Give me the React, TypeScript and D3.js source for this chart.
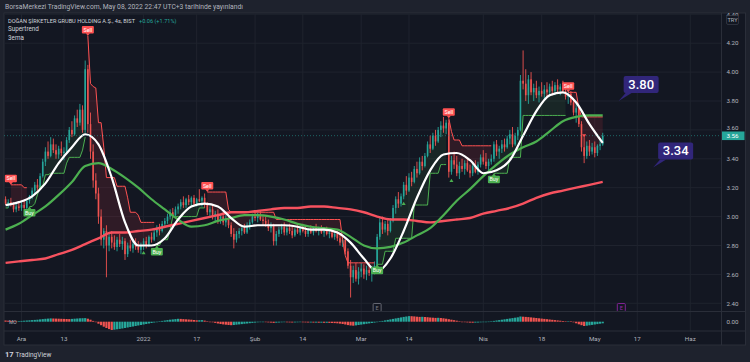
import * as d3 from "d3";

type Candle = [number, number, number, number]; // open, high, low, close

// 4h BIST bars, grouped by month
const nov21: Candle[] = [
  [3.12, 3.14, 3.08, 3.09], [3.09, 3.12, 3.06, 3.1], [3.1, 3.13, 3.07, 3.08], [3.08, 3.1, 3.03, 3.05],
  [3.05, 3.09, 3.03, 3.07], [3.07, 3.1, 3.04, 3.06],
];
const dec21: Candle[] = [
  [3.06, 3.1, 3.04, 3.08], [3.08, 3.11, 3.05, 3.06], [3.06, 3.12, 3.05, 3.11], [3.11, 3.15, 3.09, 3.14],
  [3.14, 3.2, 3.12, 3.18], [3.18, 3.24, 3.16, 3.22], [3.22, 3.26, 3.17, 3.2], [3.2, 3.3, 3.19, 3.28],
  [3.28, 3.4, 3.27, 3.38], [3.38, 3.48, 3.35, 3.45], [3.45, 3.52, 3.4, 3.42], [3.42, 3.55, 3.41, 3.5],
  [3.5, 3.54, 3.44, 3.46], [3.46, 3.5, 3.4, 3.43], [3.43, 3.49, 3.4, 3.47], [3.47, 3.52, 3.42, 3.44],
  [3.44, 3.48, 3.39, 3.45], [3.45, 3.55, 3.44, 3.53], [3.53, 3.62, 3.51, 3.6], [3.6, 3.66, 3.55, 3.57],
  [3.57, 3.7, 3.56, 3.68], [3.68, 3.74, 3.62, 3.65], [3.65, 3.78, 3.63, 3.74], [3.74, 3.77, 3.58, 3.6],
  [3.6, 4.08, 3.58, 4.02], [4.02, 4.05, 3.58, 3.64], [3.64, 3.72, 3.4, 3.45], [3.45, 3.5, 3.2, 3.25],
  [3.25, 3.3, 3.12, 3.16], [3.16, 3.2, 2.95, 3.0], [3.0, 3.05, 2.8, 2.84], [2.84, 2.92, 2.78, 2.9],
  [2.9, 2.94, 2.58, 2.8], [2.8, 2.88, 2.76, 2.86], [2.86, 2.9, 2.78, 2.82], [2.82, 2.87, 2.77, 2.79],
  [2.79, 2.86, 2.76, 2.84], [2.84, 2.88, 2.79, 2.81], [2.81, 2.86, 2.77, 2.83], [2.83, 2.85, 2.7, 2.74],
  [2.74, 2.82, 2.72, 2.8], [2.8, 2.84, 2.76, 2.78], [2.78, 2.83, 2.75, 2.81], [2.81, 2.85, 2.77, 2.79],
  [2.79, 2.83, 2.75, 2.77], [2.77, 2.82, 2.74, 2.8],
];
const jan22: Candle[] = [
  [2.8, 2.85, 2.77, 2.83], [2.83, 2.86, 2.78, 2.8], [2.8, 2.87, 2.79, 2.86], [2.86, 2.89, 2.82, 2.84],
  [2.84, 2.91, 2.83, 2.89], [2.89, 2.94, 2.86, 2.92], [2.92, 2.95, 2.87, 2.9], [2.9, 2.97, 2.89, 2.95],
  [2.95, 2.99, 2.92, 2.97], [2.97, 3.02, 2.95, 3.0], [3.0, 3.05, 2.98, 3.03], [3.03, 3.06, 2.99, 3.01],
  [3.01, 3.07, 3.0, 3.05], [3.05, 3.09, 3.02, 3.07], [3.07, 3.12, 3.05, 3.1], [3.1, 3.14, 3.06, 3.08],
  [3.08, 3.13, 3.06, 3.12], [3.12, 3.15, 3.08, 3.1], [3.1, 3.14, 3.07, 3.13], [3.13, 3.15, 3.08, 3.09],
  [3.09, 3.13, 3.07, 3.12], [3.12, 3.19, 3.1, 3.11], [3.11, 3.14, 3.07, 3.13], [3.13, 3.16, 3.06, 3.08],
  [3.08, 3.1, 3.01, 3.03], [3.03, 3.07, 3.0, 3.05], [3.05, 3.08, 2.98, 3.0], [3.0, 3.04, 2.96, 3.02],
  [3.02, 3.05, 2.95, 2.97], [2.97, 3.02, 2.95, 3.0], [3.0, 3.03, 2.94, 2.96], [2.96, 3.01, 2.93, 2.99],
  [2.99, 3.02, 2.92, 2.94], [2.94, 2.96, 2.86, 2.88], [2.88, 2.92, 2.78, 2.84], [2.84, 2.9, 2.82, 2.88],
  [2.88, 2.92, 2.85, 2.9], [2.9, 2.94, 2.87, 2.92], [2.92, 2.95, 2.88, 2.89], [2.89, 2.96, 2.88, 2.94],
  [2.94, 2.98, 2.91, 2.96], [2.96, 3.02, 2.95, 3.0],
];
const feb22: Candle[] = [
  [3.0, 3.04, 2.97, 2.99], [2.99, 3.03, 2.96, 3.01], [3.01, 3.04, 2.97, 2.98], [2.98, 3.01, 2.94, 2.97],
  [2.97, 3.0, 2.93, 2.95], [2.95, 2.98, 2.9, 2.92], [2.92, 2.96, 2.89, 2.94], [2.94, 2.95, 2.8, 2.83],
  [2.83, 2.9, 2.8, 2.88], [2.88, 2.93, 2.86, 2.91], [2.91, 2.95, 2.88, 2.93], [2.93, 2.96, 2.87, 2.89],
  [2.89, 2.94, 2.87, 2.92], [2.92, 2.95, 2.88, 2.9], [2.9, 2.93, 2.85, 2.87], [2.87, 2.92, 2.86, 2.91],
  [2.91, 2.94, 2.88, 2.89], [2.89, 2.93, 2.87, 2.92], [2.92, 2.95, 2.89, 2.9], [2.9, 2.94, 2.86, 2.88],
  [2.88, 2.92, 2.86, 2.91], [2.91, 2.94, 2.88, 2.89], [2.89, 2.93, 2.87, 2.92], [2.92, 2.95, 2.89, 2.9],
  [2.9, 2.93, 2.87, 2.91], [2.91, 2.94, 2.88, 2.89], [2.89, 2.92, 2.86, 2.9], [2.9, 2.93, 2.87, 2.88],
  [2.88, 2.92, 2.85, 2.89], [2.89, 2.91, 2.85, 2.86], [2.86, 2.9, 2.84, 2.88], [2.88, 2.9, 2.83, 2.85],
  [2.85, 2.88, 2.8, 2.82], [2.82, 2.86, 2.79, 2.84], [2.84, 2.85, 2.74, 2.76], [2.76, 2.78, 2.64, 2.66],
  [2.66, 2.7, 2.44, 2.58], [2.58, 2.66, 2.54, 2.63], [2.63, 2.68, 2.55, 2.57], [2.57, 2.65, 2.53, 2.62],
];
const mar22: Candle[] = [
  [2.62, 2.68, 2.58, 2.64], [2.64, 2.67, 2.57, 2.6], [2.6, 2.66, 2.56, 2.63], [2.63, 2.68, 2.59, 2.61],
  [2.61, 2.66, 2.55, 2.64], [2.64, 2.69, 2.6, 2.66], [2.66, 2.88, 2.66, 2.86], [2.86, 2.99, 2.84, 2.96],
  [2.96, 3.0, 2.88, 2.91], [2.91, 2.97, 2.89, 2.95], [2.95, 2.98, 2.87, 2.9], [2.9, 2.99, 2.89, 2.97],
  [2.97, 3.08, 2.96, 3.06], [3.06, 3.14, 3.02, 3.12], [3.12, 3.17, 3.06, 3.09], [3.09, 3.16, 3.07, 3.14],
  [3.14, 3.24, 3.12, 3.22], [3.22, 3.28, 3.15, 3.18], [3.18, 3.3, 3.17, 3.27], [3.27, 3.31, 3.21, 3.24],
  [3.24, 3.35, 3.23, 3.33], [3.33, 3.38, 3.27, 3.3], [3.3, 3.41, 3.29, 3.38], [3.38, 3.42, 3.32, 3.35],
  [3.35, 3.44, 3.34, 3.42], [3.42, 3.52, 3.41, 3.5], [3.5, 3.56, 3.44, 3.47], [3.47, 3.58, 3.46, 3.56],
  [3.56, 3.6, 3.49, 3.52], [3.52, 3.62, 3.51, 3.6], [3.6, 3.66, 3.55, 3.63], [3.63, 3.69, 3.58, 3.61],
  [3.61, 3.67, 3.57, 3.65], [3.65, 3.67, 3.27, 3.31], [3.31, 3.42, 3.29, 3.39], [3.39, 3.45, 3.33, 3.36],
  [3.36, 3.42, 3.28, 3.3], [3.3, 3.38, 3.26, 3.35], [3.35, 3.4, 3.31, 3.33], [3.33, 3.39, 3.29, 3.37],
  [3.37, 3.41, 3.31, 3.32], [3.32, 3.36, 3.27, 3.3], [3.3, 3.37, 3.28, 3.35], [3.35, 3.39, 3.3, 3.31],
  [3.31, 3.38, 3.29, 3.36], [3.36, 3.43, 3.34, 3.41],
];
const apr22: Candle[] = [
  [3.41, 3.46, 3.36, 3.38], [3.38, 3.44, 3.33, 3.35], [3.35, 3.4, 3.3, 3.38], [3.38, 3.43, 3.36, 3.4],
  [3.4, 3.52, 3.38, 3.5], [3.5, 3.53, 3.42, 3.45], [3.45, 3.49, 3.4, 3.47], [3.47, 3.53, 3.44, 3.5],
  [3.5, 3.54, 3.45, 3.48], [3.48, 3.56, 3.47, 3.54], [3.54, 3.6, 3.5, 3.57], [3.57, 3.62, 3.48, 3.5],
  [3.5, 3.58, 3.49, 3.56], [3.56, 3.62, 3.53, 3.6], [3.6, 3.98, 3.59, 3.94], [3.94, 4.15, 3.88, 3.92],
  [3.92, 4.02, 3.8, 3.84], [3.84, 3.98, 3.78, 3.95], [3.95, 4.0, 3.84, 3.86], [3.86, 3.92, 3.8, 3.89],
  [3.89, 3.94, 3.82, 3.84], [3.84, 3.9, 3.79, 3.87], [3.87, 3.93, 3.83, 3.85], [3.85, 3.91, 3.81, 3.88],
  [3.88, 3.93, 3.83, 3.86], [3.86, 3.92, 3.83, 3.9], [3.9, 3.94, 3.84, 3.87], [3.87, 3.93, 3.84, 3.91],
  [3.91, 3.95, 3.85, 3.88], [3.88, 3.92, 3.84, 3.9], [3.9, 3.94, 3.86, 3.87], [3.87, 3.91, 3.81, 3.83],
  [3.83, 3.88, 3.78, 3.85], [3.85, 3.87, 3.77, 3.79], [3.79, 3.82, 3.7, 3.72], [3.72, 3.78, 3.65, 3.75],
  [3.75, 3.77, 3.62, 3.64], [3.64, 3.66, 3.45, 3.48], [3.48, 3.55, 3.37, 3.42], [3.42, 3.52, 3.4, 3.49],
  [3.49, 3.53, 3.42, 3.45], [3.45, 3.51, 3.43, 3.48],
];
const may22: Candle[] = [
  [3.48, 3.52, 3.41, 3.44], [3.44, 3.5, 3.42, 3.49], [3.49, 3.54, 3.46, 3.5], [3.5, 3.58, 3.49, 3.56],
];
const candles: Candle[] = [...nov21, ...dec21, ...jan22, ...feb22, ...mar22, ...apr22, ...may22];

// 3ema, one value every 5 bars
const emaStep = 5;
const emaFast = [3.08, 3.1, 3.14, 3.23, 3.37, 3.48, 3.57, 3.5, 3.27, 2.96, 2.8, 2.8, 2.85, 2.98, 3.07, 3.09, 3.07, 2.99, 2.93, 2.94, 2.94, 2.94, 2.93, 2.91, 2.91, 2.89, 2.82, 2.71, 2.62, 2.71, 2.9, 3.13, 3.32, 3.43, 3.44, 3.39, 3.3, 3.32, 3.39, 3.56, 3.73, 3.84, 3.86, 3.79, 3.64, 3.51];
const emaMid = [2.91, 2.95, 3.01, 3.07, 3.15, 3.24, 3.35, 3.37, 3.33, 3.27, 3.2, 3.12, 3.05, 2.98, 2.93, 2.94, 2.97, 2.99, 3.01, 3.01, 3.0, 2.98, 2.95, 2.93, 2.92, 2.91, 2.86, 2.8, 2.78, 2.79, 2.82, 2.87, 2.92, 3.01, 3.11, 3.19, 3.28, 3.36, 3.43, 3.48, 3.52, 3.59, 3.66, 3.69, 3.7, 3.7];
const emaSlow = [2.68, 2.69, 2.7, 2.71, 2.74, 2.77, 2.81, 2.85, 2.89, 2.89, 2.9, 2.91, 2.93, 2.95, 2.97, 2.99, 3.01, 3.03, 3.03, 3.04, 3.05, 3.06, 3.06, 3.07, 3.07, 3.06, 3.05, 3.03, 3.0, 2.98, 2.98, 2.97, 2.96, 2.97, 2.98, 2.99, 3.02, 3.04, 3.06, 3.09, 3.13, 3.16, 3.18, 3.2, 3.22, 3.24];

// supertrend steps: [from bar, level, direction 1 = up / -1 = down]
const stSteps: [number, number, number][] = [
  [0, 3.06, 1], [2, 3.22, -1], [7, 3.2, -1], [9, 3.07, 1], [11, 3.09, 1], [12, 3.15, 1], [13, 3.21, 1],
  [15, 3.29, 1], [17, 3.3, 1], [23, 3.37, 1], [24, 3.41, 1], [29, 3.46, 1], [30, 3.55, 1],
  [31, 4.25, -1], [32, 3.92, -1], [33, 3.9, -1], [34, 3.89, -1], [35, 3.65, -1], [37, 3.48, -1],
  [38, 3.27, -1], [42, 3.21, -1], [46, 3.13, -1], [47, 3.03, -1], [50, 3.01, -1], [51, 2.96, -1],
  [57, 2.8, 1], [59, 2.84, 1], [62, 2.91, 1], [63, 3.0, 1], [73, 3.06, 1],
  [76, 3.17, -1], [84, 3.05, -1], [85, 3.03, -1], [102, 2.98, -1], [127, 2.84, -1], [128, 2.73, -1], [129, 2.68, -1],
  [140, 2.67, 1], [143, 2.76, 1], [147, 2.85, 1], [154, 3.08, 1], [160, 3.3, 1], [164, 3.36, 1],
  [167, 3.68, -1], [168, 3.59, -1], [169, 3.53, -1], [172, 3.49, -1],
  [184, 3.3, 1], [190, 3.41, 1], [195, 3.7, 1],
  [212, 3.86, -1], [216, 3.75, -1], [217, 3.69, -1],
];

// small signal triangles: [bar, price, 1 = up / -1 = down]
const triangles: [number, number, number][] = [[52, 2.75, 1], [150, 3.09, 1], [168, 3.25, 1], [218, 3.56, -1]];

// MO histogram
const momentum = [
  1.2, 1.0, 0.8, 0.6, 0.5, 0.6, 0.8, 1.0, 1.2, 1.4, 1.6, 1.8, 2.0, 2.3, 2.6, 2.9, 3.1, 3.3, 3.2, 3.1,
  3.0, 2.9, 2.8, 2.7, 2.6, 2.8, 3.0, 3.2, 3.4, 3.5, 3.6, 3.0, 2.0, 0.8, -0.5, -2.0, -3.5, -5.0, -6.3, -7.4,
  -8.3, -8.0, -7.6, -7.2, -6.8, -6.3, -5.8, -5.3, -4.8, -4.3, -3.8, -3.3, -2.8, -2.3, -1.8, -1.3, -0.8, -0.2, 0.3, 0.8,
  1.2, 1.6, 2.0, 2.3, 2.6, 2.9, 2.8, 2.6, 2.4, 2.2, 2.0, 1.7, 1.4, 1.5, 1.6, 1.1, 0.5, 0.0, -0.6, -1.2,
  -1.8, -2.3, -2.7, -3.0, -3.3, -3.5, -3.3, -3.0, -2.7, -2.4, -2.1, -1.8, -1.5, -1.2, -0.9, -0.6, -0.4, -0.3, -0.5, -0.7,
  -0.9, -1.2, -1.0, -0.8, -0.6, -0.5, -0.6, -0.7, -0.8, -0.7, -0.6, -0.5, -0.6, -0.7, -0.8, -0.8, -0.9, -0.9, -1.0, -1.0,
  -1.1, -1.1, -1.2, -1.3, -1.4, -1.6, -1.9, -2.3, -2.8, -3.4, -3.8, -4.0, -3.7, -3.3, -2.9, -2.5, -2.1, -1.7, -1.3, -0.9,
  -0.4, 0.2, 0.8, 1.3, 1.8, 2.3, 2.8, 3.3, 3.8, 4.3, 4.8, 5.2, 5.6, 5.5, 5.3, 5.0, 4.8, 4.9, 4.7, 4.5,
  4.2, 4.0, 3.8, 3.9, 3.7, 3.4, 3.0, 2.5, 2.0, 1.5, 1.0, 0.5, 0.0, -0.4, -0.7, -0.9, -1.0, -0.9, -0.8, -0.6,
  -0.4, -0.2, 0.1, 0.4, 0.8, 1.2, 1.6, 2.0, 2.4, 2.8, 3.2, 3.6, 4.0, 4.4, 5.2, 5.0, 4.8, 4.6, 4.3, 4.0,
  3.7, 3.4, 3.1, 2.8, 2.5, 2.2, 1.9, 1.6, 1.3, 1.0, 0.7, 0.4, 0.5, 0.3, -0.6, -1.6, -2.6, -3.5, -4.3, -4.0,
  -3.6, -3.2, -2.8, -2.4, -2.0, -1.6,
];

const priceTicks = [2.4, 2.6, 2.8, 3.0, 3.2, 3.4, 3.6, 3.8, 4.0, 4.2, 4.4];
const timeTickBars = [6, 22, 52, 72, 94, 112, 134, 152, 180, 202, 222, 238, 258];
const timeTickLabels = ["Ara", "13", "2022", "17", "Şub", "14", "Mar", "14", "Nis", "18", "May", "17", "Haz"];

const callouts = [
  { bar: 231, price: 3.8, text: "3.80" },
  { bar: 244, price: 3.34, text: "3.34" },
];
const earnings = [
  { bar: 140, color: "#787b86" },
  { bar: 232, color: "#9c27b0" },
];

const UP = "#26a69a";
const DOWN = "#ef5350";
const FONT = "Roboto, 'Noto Sans', sans-serif";

const App = () => {
  const left = 4, axisX = 721.5, right = 745.5, top = 13, paneBottom = 311.5, moBottom = 331, bottom = 345;

  const x = d3.scaleLinear().domain([0, 258]).range([5.58, 690.3]);
  const y = d3.scaleLinear().domain([2.4, 4.4]).range([303.3, 14.3]);
  const yMo = d3.scaleLinear().domain([-10, 10]).range([331.7, 311.7]);

  const bars = d3.range(candles.length);
  const last = candles[candles.length - 1];
  const lastY = y(last[3]);

  // supertrend per bar
  const st = bars.map((i) => {
    let s = stSteps[0];
    for (const step of stSteps) if (step[0] <= i) s = step;
    return { v: s[1], dir: s[2] };
  });
  const segments: { dir: number; start: number; end: number }[] = [];
  st.forEach((p, i) => {
    if (i === 0 || p.dir !== st[i - 1].dir) segments.push({ dir: p.dir, start: i, end: i });
    else segments[segments.length - 1].end = i;
  });

  const mid = (i: number) => (candles[i][0] + candles[i][3]) / 2;
  const fillArea = d3
    .area<number>()
    .x((i) => x(i))
    .y0((i) => y(st[i].v))
    .y1((i) => y(mid(i)));
  const stLine = d3
    .line<number>()
    .x((i) => x(i))
    .y((i) => y(st[i].v));
  const emaLine = d3
    .line<number>()
    .x((_, k) => x(k * emaStep))
    .y((v) => y(v))
    .curve(d3.curveMonotoneX);

  const bodyW = 1.6;

  return (
    <svg
      width={750}
      height={362}
      style={{ position: "absolute", left: 0, top: 0, display: "block", fontFamily: FONT }}
    >
      <defs>
        <clipPath id="mainClip">
          <rect x={left} y={top} width={axisX - left} height={paneBottom - top} />
        </clipPath>
        <clipPath id="moClip">
          <rect x={left} y={paneBottom} width={axisX - left} height={moBottom - paneBottom} />
        </clipPath>
        <clipPath id="axisClip">
          <rect x={axisX} y={top} width={right - axisX} height={moBottom - top} />
        </clipPath>
      </defs>

      <rect width={750} height={362} fill="#1e222d" />
      <rect x={left} y={top} width={right - left} height={bottom - top} fill="#131722" stroke="#2a2e39" strokeWidth={1} />

      {/* header */}
      <text x={5} y={9} fontSize={6.6} fill="#b2b5be" textLength={238} lengthAdjust="spacingAndGlyphs">
        BorsaMerkezi TradingView.com, May 08, 2022 22:47 UTC+3 tarihinde yayınlandı
      </text>

      {/* grid */}
      <g stroke="#1f232e" strokeWidth={1}>
        {priceTicks.map((p) => (
          <line key={p} x1={left} x2={axisX} y1={y(p)} y2={y(p)} />
        ))}
        {timeTickBars.map((b) => (
          <line key={b} x1={x(b)} x2={x(b)} y1={top} y2={moBottom} />
        ))}
      </g>

      {/* main pane */}
      <g clipPath="url(#mainClip)">
        {segments.map((s, k) => (
          <path
            key={"f" + k}
            d={fillArea(d3.range(s.start, s.end + 1)) ?? ""}
            fill={s.dir > 0 ? "rgba(76,175,80,0.10)" : "rgba(242,54,69,0.13)"}
          />
        ))}

        {bars.map((i) => {
          const [o, h, l, c] = candles[i];
          const col = c >= o ? UP : DOWN;
          const yTop = y(Math.max(o, c));
          const yBot = y(Math.min(o, c));
          return (
            <g key={"c" + i}>
              <line x1={x(i)} x2={x(i)} y1={y(h)} y2={y(l)} stroke={col} strokeWidth={0.9} />
              <rect x={x(i) - bodyW / 2} y={yTop} width={bodyW} height={Math.max(0.8, yBot - yTop)} fill={col} />
            </g>
          );
        })}

        {segments.map((s, k) => (
          <path
            key={"s" + k}
            d={stLine(d3.range(s.start, s.end + 1)) ?? ""}
            fill="none"
            stroke={s.dir > 0 ? "#4caf50" : "#ff5252"}
            strokeWidth={1}
          />
        ))}

        <path d={emaLine(emaSlow) ?? ""} fill="none" stroke="#f7525f" strokeWidth={2.4} />
        <path d={emaLine(emaMid) ?? ""} fill="none" stroke="#4caf50" strokeWidth={2.2} />
        <path d={emaLine(emaFast) ?? ""} fill="none" stroke="#ffffff" strokeWidth={2.2} />

        <line x1={left} x2={axisX} y1={lastY} y2={lastY} stroke={UP} strokeOpacity={0.55} strokeDasharray="1,2" />

        {triangles.map(([b, p, d], k) => {
          const cx = x(b), cy = y(p);
          const pts = d > 0
            ? `${cx - 2},${cy + 1.5} ${cx + 2},${cy + 1.5} ${cx},${cy - 1.8}`
            : `${cx - 2},${cy - 1.5} ${cx + 2},${cy - 1.5} ${cx},${cy + 1.8}`;
          return <polygon key={"t" + k} points={pts} fill={d > 0 ? "#4caf50" : "#ff5252"} />;
        })}

        {segments.slice(1).map((s, k) => {
          const cx = x(s.start);
          const tip = y(st[s.start].v);
          const sell = s.dir < 0;
          const w = 12, hgt = 7.5;
          const boxY = sell ? tip - 2.5 - hgt : tip + 2.5;
          const col = sell ? "#ff5252" : "#4caf50";
          const ptr = sell
            ? `${cx - 2},${boxY + hgt - 0.2} ${cx + 2},${boxY + hgt - 0.2} ${cx},${tip}`
            : `${cx - 2},${boxY + 0.2} ${cx + 2},${boxY + 0.2} ${cx},${tip}`;
          return (
            <g key={"l" + k}>
              <polygon points={ptr} fill={col} />
              <rect x={cx - w / 2} y={boxY} width={w} height={hgt} rx={1} fill={col} />
              <text x={cx} y={boxY + hgt / 2 + 1.9} fontSize={5.4} fill="#fff" textAnchor="middle">
                {sell ? "Sell" : "Buy"}
              </text>
            </g>
          );
        })}

        {earnings.map((e, k) => (
          <g key={"e" + k}>
            <rect x={x(e.bar) - 4} y={303.5} width={8} height={8} rx={1} fill="#131722" stroke={e.color} strokeWidth={0.8} />
            <text x={x(e.bar)} y={309.7} fontSize={5.5} fill={e.color} textAnchor="middle">E</text>
          </g>
        ))}

        {callouts.map((c, k) => {
          const tx = x(c.bar), ty = y(c.price);
          const bx = tx + 5, byTop = ty - 25, bw = 35, bh = 17;
          return (
            <g key={"a" + k}>
              <polygon points={`${bx + 2},${byTop + bh} ${bx + 8},${byTop + bh} ${tx},${ty}`} fill="#31267a" />
              <rect x={bx} y={byTop} width={bw} height={bh} rx={2} fill="#31267a" />
              <text x={bx + bw / 2} y={byTop + 13} fontSize={13} fontWeight={500} fill="#ffffff" textAnchor="middle">
                {c.text}
              </text>
            </g>
          );
        })}
      </g>

      {/* legend */}
      <text x={8} y={22.5} fontSize={5.6} fill="#d1d4dc">
        DOĞAN ŞİRKETLER GRUBU HOLDING A.Ş., 4s, BIST
        <tspan fill={UP} dx={4}>+0.06 (+1.71%)</tspan>
      </text>
      <text x={8} y={31} fontSize={6.3} fill="#d1d4dc">Supertrend</text>
      <text x={8} y={39.5} fontSize={6.3} fill="#d1d4dc">3ema</text>

      {/* MO pane */}
      <line x1={left} x2={right} y1={paneBottom} y2={paneBottom} stroke="#2a2e39" />
      <g clipPath="url(#moClip)">
        {bars.map((i) => {
          const v = momentum[i];
          const rising = i === 0 ? false : v >= momentum[i - 1];
          const y0 = yMo(0), y1 = yMo(v);
          return (
            <rect
              key={"m" + i}
              x={x(i) - 1.1}
              y={Math.min(y0, y1)}
              width={2.2}
              height={Math.max(0.5, Math.abs(y1 - y0))}
              fill={rising ? UP : DOWN}
            />
          );
        })}
      </g>
      <text x={9} y={323.5} fontSize={5} fill="#b2b5be">MO</text>

      {/* price axis */}
      <line x1={axisX} x2={axisX} y1={top} y2={bottom} stroke="#2a2e39" />
      <g clipPath="url(#axisClip)" fontSize={6.2} fill="#b2b5be">
        {priceTicks.map((p) => {
          // the label just above the last-price tag is nudged up so they do not collide
          const near = Math.abs(y(p) - lastY) < 8;
          return (
            <text key={p} x={726.5} y={near ? lastY - 5.6 : y(p) + 2.2}>
              {p.toFixed(2)}
            </text>
          );
        })}
        <text x={726.5} y={yMo(0) + 2.2}>0.00</text>
      </g>
      <rect x={726.5} y={15.5} width={12} height={9} rx={1.5} fill="#131722" stroke="#363a45" strokeWidth={0.8} />
      <text x={732.5} y={22} fontSize={5.6} fill="#b2b5be" textAnchor="middle">TRY</text>
      <rect x={722} y={lastY - 4.2} width={22.5} height={8.6} fill={UP} />
      <text x={726.5} y={lastY + 2.2} fontSize={6.2} fill="#ffffff">
        {last[3].toFixed(2)}
      </text>

      {/* time axis */}
      <line x1={left} x2={right} y1={moBottom} y2={moBottom} stroke="#2a2e39" />
      <g fontSize={6.2} fill="#b2b5be" textAnchor="middle">
        {timeTickBars.map((b, k) => (
          <text key={b} x={x(b)} y={340.5}>
            {timeTickLabels[k]}
          </text>
        ))}
      </g>

      {/* footer */}
      <text x={5} y={356.5} fontSize={7.5} fontWeight={700} fill="#d1d4dc">17</text>
      <text x={15.5} y={356.5} fontSize={6.5} fill="#d1d4dc">TradingView</text>
    </svg>
  );
};

export default App;
